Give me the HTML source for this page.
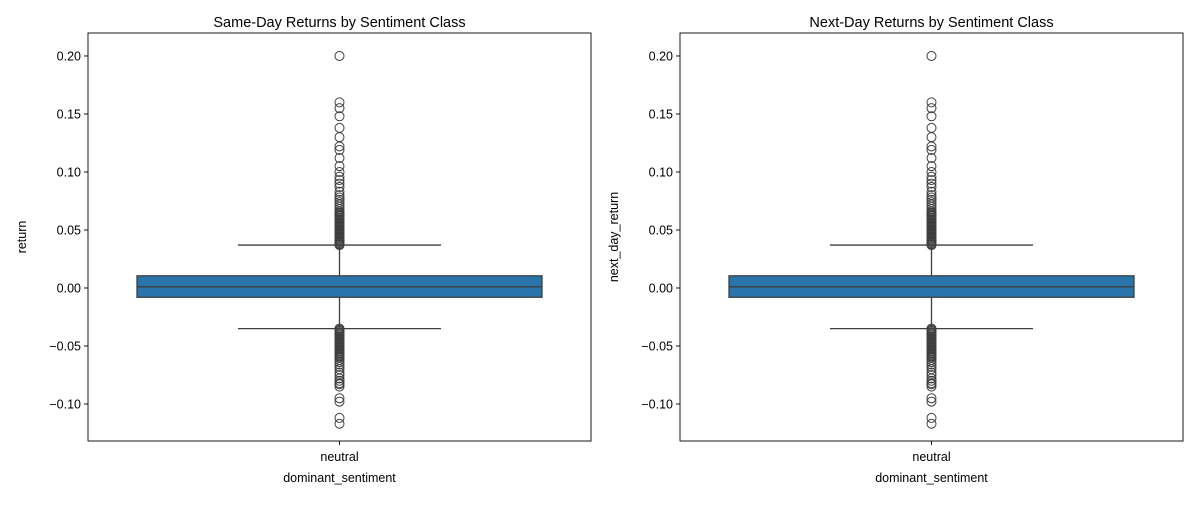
<!DOCTYPE html>
<html><head><meta charset="utf-8"><style>
body{margin:0;background:#fff}
svg text{font-family:"Liberation Sans","DejaVu Sans",sans-serif;fill:#000}
</style></head><body>
<svg id="fig" width="1200" height="500"></svg>
<script>
const categories=["neutral"];
const q1=-0.008, median=0.001, q3=0.0105, whiskerLow=-0.035, whiskerHigh=0.037;
const outliersHigh=[0.200,0.160,0.155,0.148,0.138,0.130,0.122,0.119,0.112,0.105,0.100,0.096,0.093,0.090,0.087,0.083,0.080,0.078,0.076,0.074,0.072,0.070,0.068,0.066,0.065,0.064,0.063,0.062,0.061,0.060,0.059,0.058,0.057,0.056,0.055,0.054,0.053,0.052,0.051,0.050,0.049,0.048,0.047,0.046,0.045,0.044,0.043,0.042,0.041,0.040,0.039,0.038,0.0375,0.037];
const outliersLow=[-0.035,-0.036,-0.037,-0.038,-0.039,-0.040,-0.041,-0.042,-0.043,-0.044,-0.045,-0.046,-0.047,-0.048,-0.049,-0.050,-0.051,-0.052,-0.053,-0.054,-0.055,-0.056,-0.057,-0.058,-0.059,-0.060,-0.062,-0.064,-0.066,-0.068,-0.070,-0.073,-0.075,-0.078,-0.080,-0.082,-0.083,-0.085,-0.095,-0.098,-0.112,-0.117];
const yTicks=[0.20,0.15,0.10,0.05,0.00,-0.05,-0.10];
const yTickLabels=["0.20","0.15","0.10","0.05","0.00","\u22120.05","\u22120.10"];
const panels=[{x0:88,title:"Same-Day Returns by Sentiment Class",ylabel:"return",name:"same-day"},
{x0:680,title:"Next-Day Returns by Sentiment Class",ylabel:"next_day_return",name:"next-day"}];
const NS="http://www.w3.org/2000/svg", svg=document.getElementById('fig');
const topY=33,bot=441,W=503,ymin=-0.1319,ymax=0.2198;
const y=v=>bot-(v-ymin)/(ymax-ymin)*(bot-topY);
function mk(t,a,p){const e=document.createElementNS(NS,t);for(const k in a)e.setAttribute(k,a[k]);(p||svg).appendChild(e);return e;}
panels.forEach(p=>{
 const g=mk('g',{});
 
 
 const xc=p.x0+W/2, bw=405, cw=203;
 [[whiskerHigh,q3],[whiskerLow,q1]].forEach(([w,q])=>{
  const l=mk('line',{x1:xc,x2:xc,y1:y(w),y2:y(q),stroke:'#3f3f3f','stroke-width':1.3},g);
  
  
  const c=mk('line',{x1:xc-cw/2,x2:xc+cw/2,y1:y(w),y2:y(w),stroke:'#3f3f3f','stroke-width':1.3},g);
  
  
 });
 const b=mk('rect',{x:xc-bw/2,y:y(q3),width:bw,height:y(q1)-y(q3),fill:'#2874ab',stroke:'#3f3f3f','stroke-width':1.3},g);
 
 
 const m=mk('line',{x1:xc-bw/2,x2:xc+bw/2,y1:y(median),y2:y(median),stroke:'#3f3f3f','stroke-width':1.3},g);
 
 
 outliersHigh.concat(outliersLow).forEach(v=>{
  const c=mk('circle',{cx:xc,cy:y(v),r:4.5,fill:'none',stroke:'#3f3f3f','stroke-width':1},g);
  
  
 });
 const f=mk('rect',{x:p.x0,y:topY,width:W,height:bot-topY,fill:'none',stroke:'#000','stroke-width':0.9},g);
 
 
 yTicks.forEach((v,i)=>{
  mk('line',{x1:p.x0-4,x2:p.x0,y1:y(v),y2:y(v),stroke:'#000','stroke-width':0.9},g);
  const t=mk('text',{x:p.x0-7,y:y(v)+4.5,'text-anchor':'end','font-size':12.5},g);
  t.textContent=yTickLabels[i];
  
  
 });
 mk('line',{x1:xc,x2:xc,y1:bot,y2:bot+4,stroke:'#000','stroke-width':0.9},g);
 const xt=mk('text',{x:xc,y:bot+20,'text-anchor':'middle','font-size':12.5},g);
 xt.textContent=categories[0];
 
 
 const xl=mk('text',{x:xc,y:482,'text-anchor':'middle','font-size':12.5},g);
 xl.textContent='dominant_sentiment';
 
 
 const ylx=p.x0-62, yly=(topY+bot)/2;
 const yl=mk('text',{x:ylx,y:yly,'text-anchor':'middle','font-size':12.5,transform:`rotate(-90 ${ylx} ${yly})`},g);
 yl.textContent=p.ylabel;
 
 
 const tt=mk('text',{x:xc,y:27,'text-anchor':'middle','font-size':14.5},g);
 tt.textContent=p.title;
 
 
});
</script>
</body></html>
